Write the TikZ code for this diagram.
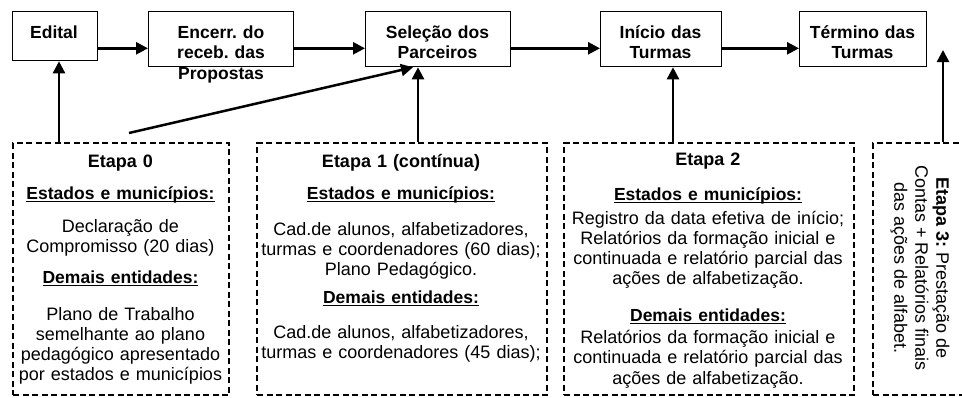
\documentclass[tikz,border=0pt]{standalone}
\usepackage{fontspec}
\setmainfont{Liberation Sans}
\usetikzlibrary{arrows.meta}
\frenchspacing
\newsavebox\myulbox
\newcommand{\myul}[1]{\sbox\myulbox{#1}\rlap{\rule[-3.2pt]{\wd\myulbox}{1.3pt}}\usebox\myulbox}
\newcommand{\hd}[1]{{\fontsize{17.5}{20}\selectfont\textbf{\myul{#1}}}}
\begin{document}
\begin{tikzpicture}[x=1pt,y=-1pt,
  font=\fontsize{18}{20}\selectfont\frenchspacing,
  topbox/.style={draw, line width=1.3pt, inner sep=0, anchor=north west},
  dbox/.style={draw, dash pattern=on 6pt off 3.5pt, line width=2pt, inner sep=0, anchor=north west},
  txt/.style={anchor=base, inner sep=0, align=center, text width=#1},
  toptxt/.style={anchor=base, inner sep=0, align=center, text width=#1,
     font=\fontsize{17.5}{20.5}\selectfont\bfseries\frenchspacing},
  arr/.style={line width=2.5pt, -{Triangle[length=12pt,width=12pt]}}]
\useasboundingbox (0,0) rectangle (962,397);
\clip (0,0) rectangle (962,397);

% top boxes
\node[topbox, minimum width=85pt, minimum height=49pt] (ed) at (12,11) {};
\node[topbox, minimum width=145pt, minimum height=55pt] (enc) at (148,11) {};
\node[topbox, minimum width=145pt, minimum height=55pt] (sel) at (365,11) {};
\node[topbox, minimum width=121pt, minimum height=55pt] (ini) at (600,11) {};
\node[topbox, minimum width=127pt, minimum height=55pt] (ter) at (799,11) {};

\node[toptxt=80pt] (edt) at (54,38) {Edital};
\node[toptxt=140pt] (enct) at (221,38) {Encerr. do\\ receb. das\\ Propostas};
\node[toptxt=140pt] (selt) at (437.5,38) {Seleção dos\\ Parceiros};
\node[toptxt=118pt] (init) at (660.5,38) {Início das\\ Turmas};
\node[toptxt=124pt] (tert) at (862.5,38) {Término das\\ Turmas};

% dashed boxes
\node[dbox, minimum width=216pt, minimum height=252pt] (b0) at (12,142) {};
\node[dbox, minimum width=290pt, minimum height=252pt] (b1) at (256,142) {};
\node[dbox, minimum width=290pt, minimum height=252pt] (b2) at (563,142) {};
\node[dbox, minimum width=140pt, minimum height=252pt] (b3) at (872,142) {};

\node[txt=212pt] (t0) at (120.5,167) {\textbf{Etapa 0}\\[12pt]
  \hd{Estados e municípios:}\\[13pt]
  Declaração de\\
  Compromisso (20 dias)\\[11pt]
  \hd{Demais entidades:}\\[17pt]
  Plano de Trabalho\\
  semelhante ao plano\\
  pedagógico apresentado\\
  por estados e municípios};

\node[txt=288pt] (t1) at (401,167) {\textbf{Etapa 1 (contínua)}\\[12pt]
  \hd{Estados e municípios:}\\[16pt]
  Cad.de alunos, alfabetizadores,\\
  turmas e coordenadores (60 dias);\\
  Plano Pedagógico.\\[8pt]
  \hd{Demais entidades:}\\[15pt]
  Cad.de alunos, alfabetizadores,\\
  turmas e coordenadores (45 dias);};

\node[txt=288pt] (t2) at (708,165) {\textbf{Etapa 2}\\[15pt]
  \hd{Estados e municípios:}\\[4pt]
  Registro da data efetiva de início;\\
  Relatórios da formação inicial e\\
  continuada e relatório parcial das\\
  ações de alfabetização.\\[17pt]
  \hd{Demais entidades:}\\[2pt]
  Relatórios da formação inicial e\\[0.5pt]
  continuada e relatório parcial das\\[0.5pt]
  ações de alfabetização.};

\node[rotate=-90, align=center, inner sep=0, font=\fontsize{18}{21}\selectfont] (t3) at (920,268)
  {\textbf{Etapa 3:} Prestação de\\ Contas + Relatórios finais\\ das ações de alfabet.};

% arrows
\coordinate (row) at (0,48.3);
\draw[arr] (ed.east |- row) -- (enc.west |- row);
\draw[arr] (enc.east |- row) -- (sel.west |- row);
\draw[arr] (sel.east |- row) -- (ini.west |- row);
\draw[arr] (ini.east |- row) -- (ter.west |- row);

\coordinate (xa) at (59,0);
\coordinate (xb) at (418,0);
\coordinate (xd) at (413,0);
\coordinate (xc) at (673,0);
\coordinate (dstart) at (129,133);
\coordinate (xe) at (943,50);
\draw[arr] (b0.north -| xa) -- (ed.south -| xa);
\draw[arr] (b1.north -| xb) -- (sel.south -| xb);
\draw[arr] (dstart) -- (sel.south -| xd);
\draw[arr] (b2.north -| xc) -- (ini.south -| xc);
\draw[arr] (b3.north -| xe) -- (xe);
\end{tikzpicture}
\end{document}
